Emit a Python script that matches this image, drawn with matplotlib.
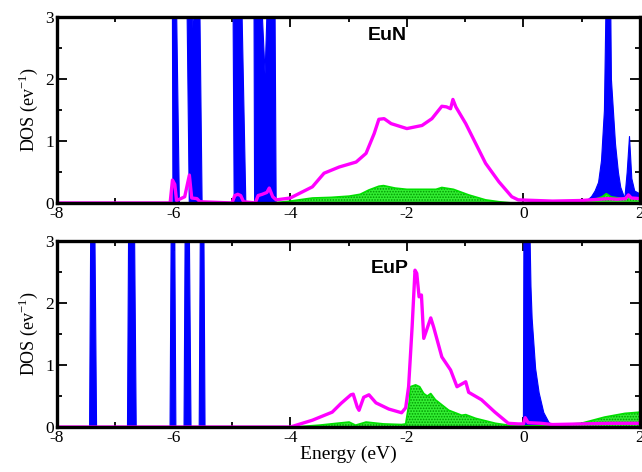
import matplotlib
matplotlib.use("Agg")
import matplotlib.pyplot as plt
from matplotlib.ticker import MultipleLocator

# ---------------- data ----------------
# EuN (top panel)
eun_blue_e = [-8, -6.02, -6.03, -5.96, -5.91, -5.74, -5.78, -5.69, -5.67, -5.65, -5.56, -5.52,
              -4.97, -4.99, -4.84, -4.77, -4.62, -4.63, -4.50, -4.44, -4.40, -4.27, -4.25,
              0.9, 1.0, 1.1, 1.16, 1.22, 1.28, 1.33, 1.38, 1.42, 1.48, 1.5, 1.57, 1.62, 1.66,
              1.73, 1.77, 1.81, 1.85, 1.9, 2.0]
eun_blue_v = [0, 0, 3.3, 3.3, 0, 0, 3.3, 3.3, 2.6, 3.3, 3.3, 0,
              0, 3.3, 3.3, 0, 0, 3.3, 3.3, 2.09, 3.3, 3.3, 0,
              0, 0.02, 0.06, 0.11, 0.2, 0.34, 0.69, 1.5, 4.0, 4.0, 2.0, 0.96, 0.5, 0.26,
              0.08, 0.5, 1.08, 0.4, 0.2, 0.15]

eun_mag_e = [-8, -6.06, -6.02, -5.98, -5.95, -5.9, -5.81, -5.73, -5.69, -5.6, -5.55, -5.0,
             -4.95, -4.9, -4.85, -4.8, -4.6, -4.55, -4.48, -4.4, -4.36, -4.3, -4.24, -4.0,
             -3.62, -3.42, -3.16, -2.87, -2.70, -2.56, -2.48, -2.39, -2.27, -2.0, -1.74,
             -1.57, -1.40, -1.32, -1.25, -1.21, -1.16, -0.99, -0.82, -0.65, -0.42, -0.2,
             -0.09, 0.5, 1.0, 1.3, 1.45, 1.6, 1.75, 1.8, 1.85, 2.0]
eun_mag_v = [0, 0, 0.37, 0.3, 0.04, 0.06, 0.1, 0.45, 0.08, 0.07, 0.02, 0,
             0.12, 0.14, 0.12, 0.02, 0.0, 0.12, 0.14, 0.17, 0.24, 0.1, 0.05, 0.08,
             0.26, 0.48, 0.58, 0.66, 0.80, 1.12, 1.35, 1.36, 1.28, 1.2, 1.25,
             1.36, 1.56, 1.55, 1.52, 1.67, 1.55, 1.28, 0.96, 0.64, 0.34, 0.1,
             0.05, 0.03, 0.04, 0.06, 0.07, 0.06, 0.07, 0.13, 0.08, 0.07]

eun_grn_e = [-8, -4.3, -4.0, -3.62, -3.3, -2.99, -2.8, -2.65, -2.48, -2.4, -2.2, -2.0, -1.7,
             -1.5, -1.4, -1.2, -0.94, -0.65, -0.42, -0.2, 0.5, 1.0, 1.2, 1.35, 1.42, 1.5,
             1.7, 1.8, 1.85, 2.0]
eun_grn_v = [0, 0, 0.03, 0.08, 0.09, 0.11, 0.14, 0.21, 0.27, 0.28, 0.24, 0.22, 0.22,
             0.22, 0.25, 0.22, 0.13, 0.05, 0.02, 0.0, 0.0, 0.03, 0.05, 0.1, 0.15, 0.1,
             0.07, 0.12, 0.08, 0.07]

# EuP (bottom panel)
eup_blue_e = [-8, -7.45, -7.43, -7.36, -7.33, -6.80, -6.78, -6.68, -6.65, -6.07, -6.05, -5.99,
              -5.97, -5.83, -5.81, -5.74, -5.71, -5.57, -5.55, -5.49, -5.47, -0.01, 0.0, 0.1,
              0.12, 0.14, 0.2, 0.26, 0.34, 0.43, 0.51, 0.7, 2.0]
eup_blue_v = [0, 0, 3.3, 3.3, 0, 0, 3.3, 3.3, 0, 0, 3.3, 3.3,
              0, 0, 3.3, 3.3, 0, 0, 3.3, 3.3, 0, 0, 3.3, 3.3,
              2.28, 1.76, 0.95, 0.56, 0.24, 0.08, 0.03, 0.0, 0.0]

eup_mag_e = [-8, -4.0, -3.93, -3.62, -3.28, -3.13, -2.96, -2.92, -2.85, -2.82, -2.74, -2.65,
             -2.53, -2.31, -2.09, -2.02, -1.97, -1.91, -1.86, -1.83, -1.79, -1.75, -1.71,
             -1.59, -1.54, -1.40, -1.25, -1.14, -0.99, -0.94, -0.72, -0.49, -0.26, -0.09,
             0.0, 0.03, 0.08, 0.3, 0.5, 1.0, 1.5, 2.0]
eup_mag_v = [0, 0, 0.02, 0.11, 0.24, 0.38, 0.52, 0.53, 0.32, 0.27, 0.48, 0.52,
             0.39, 0.29, 0.23, 0.31, 0.65, 1.61, 2.53, 2.48, 2.1, 2.13, 1.43,
             1.76, 1.61, 1.13, 0.92, 0.65, 0.73, 0.56, 0.44, 0.24, 0.06, 0.05,
             0.05, 0.15, 0.07, 0.06, 0.04, 0.05, 0.06, 0.06]

eup_grn_e = [-8, -3.95, -3.5, -3.2, -2.99, -2.88, -2.7, -2.4, -2.09, -2.02, -1.96, -1.94,
             -1.85, -1.78, -1.71, -1.65, -1.59, -1.51, -1.28, -1.06, -0.99, -0.82, -0.48,
             -0.26, 0.0, 0.3, 0.5, 0.99, 1.39, 1.74, 2.0]
eup_grn_v = [0, 0, 0.03, 0.06, 0.08, 0.03, 0.08, 0.05, 0.04, 0.05, 0.4, 0.65,
             0.68, 0.65, 0.54, 0.5, 0.54, 0.44, 0.27, 0.19, 0.2, 0.14, 0.06,
             0.03, 0.02, 0.02, 0.03, 0.06, 0.16, 0.22, 0.24]

panel_titles = ["EuN", "EuP"]
x_ticks = [-8, -6, -4, -2, 0, 2]
y_ticks = [0, 1, 2, 3]

# ---------------- plotting ----------------
serif = ["Liberation Serif", "DejaVu Serif"]
plt.rcParams["font.family"] = serif
plt.rcParams["mathtext.fontset"] = "custom"
plt.rcParams["mathtext.rm"] = "Liberation Serif"
plt.rcParams["hatch.linewidth"] = 0.8

fig = plt.figure(figsize=(6.42, 4.72), dpi=100)
ax1 = fig.add_axes([0.0888, 0.570, 0.9082, 0.394])
ax2 = fig.add_axes([0.0888, 0.0953, 0.9082, 0.394])

panels = [
    (ax1, eun_blue_e, eun_blue_v, eun_grn_e, eun_grn_v, eun_mag_e, eun_mag_v, (-2.34, 2.7)),
    (ax2, eup_blue_e, eup_blue_v, eup_grn_e, eup_grn_v, eup_mag_e, eup_mag_v, (-2.29, 2.56)),
]

for (ax, be, bv, ge, gv, me, mv, tpos), title in zip(panels, panel_titles):
    ax.fill_between(be, 0, bv, facecolor="#0000ff", edgecolor="#0000ff", linewidth=0.8, zorder=2)
    ax.fill_between(ge, 0, gv, facecolor="#33ee33", edgecolor="#009900", hatch="......",
                    linewidth=0, zorder=3)
    ax.plot(ge, gv, color="#00e000", linewidth=1.2, zorder=3.5)
    ax.plot(me, mv, color="#ff00ff", linewidth=2.4, zorder=4, solid_joinstyle="round")
    ax.set_xlim(-8, 2)
    ax.set_ylim(0, 3)
    ax.set_xticks(x_ticks)
    ax.set_yticks(y_ticks)
    ax.xaxis.set_minor_locator(MultipleLocator(1))
    ax.yaxis.set_minor_locator(MultipleLocator(0.5))
    ax.tick_params(which="both", direction="in", top=True, right=True, width=1.3,
                   labelsize=12.5, pad=2)
    ax.tick_params(which="major", length=7)
    ax.tick_params(which="minor", length=3.5)
    for s in ax.spines.values():
        s.set_linewidth(2.4)
        s.set_zorder(6)
    ax.set_ylabel("DOS (ev$^{\\mathregular{-1}}$)", fontsize=13, labelpad=4)
    ax.text(tpos[0], tpos[1], title, ha="center", va="center", fontsize=14,
            fontweight="bold", family=["Liberation Sans", "DejaVu Sans"])
    ax.set_xticklabels([str(t) for t in x_ticks])

ax2.set_xlabel("Energy (eV)", fontsize=14, labelpad=0)

fig.savefig("out.png", dpi=100)
